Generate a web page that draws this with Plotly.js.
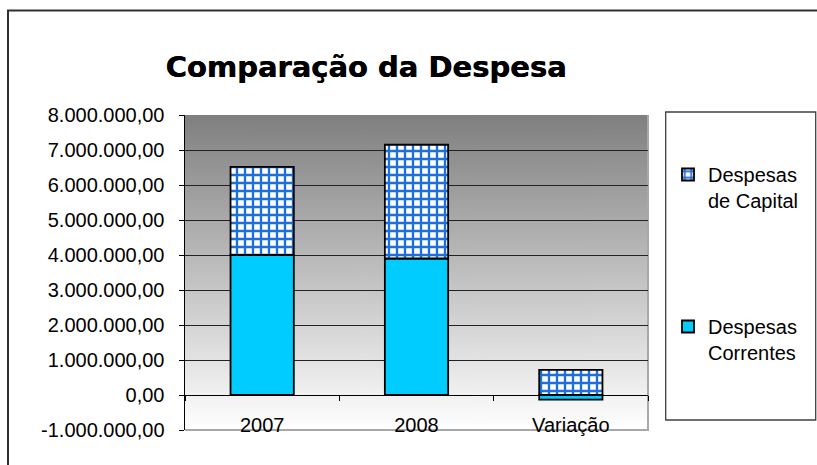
<!DOCTYPE html>
<html>
<head>
<meta charset="utf-8">
<script src="https://cdn.plot.ly/plotly-3.0.1.min.js"></script>
<style>html,body{margin:0;padding:0;background:#fff;}#chart{width:817px;height:465px;}</style>
</head>
<body>
<div id="chart"></div>
<script>
// ---- data ----
var categories = ['2007', '2008', 'Variação'];
var despesasCorrentes = [4000000, 3900000, -130000];
var despesasCapital = [2520000, 3250000, 720000];
var yTickValues = [-1000000, 0, 1000000, 2000000, 3000000, 4000000, 5000000, 6000000, 7000000, 8000000];
var yTickLabels = ['-1.000.000,00', '0,00', '1.000.000,00', '2.000.000,00', '3.000.000,00',
                   '4.000.000,00', '5.000.000,00', '6.000.000,00', '7.000.000,00', '8.000.000,00'];
var titleText = 'Comparação da Despesa';
var nameCorrentes = 'Despesas<br>Correntes';
var nameCapital = 'Despesas<br>de Capital';

// gradient background image for the plot area
function gradientURL() {
  var c = document.createElement('canvas');
  c.width = 4; c.height = 315;
  var ctx = c.getContext('2d');
  var g = ctx.createLinearGradient(0, 0, 0, 315);
  g.addColorStop(0, '#7f7f7f');
  g.addColorStop(1, '#ffffff');
  ctx.fillStyle = g;
  ctx.fillRect(0, 0, 4, 315);
  return c.toDataURL('image/png');
}

var FONT = 'Liberation Sans, Arial, sans-serif';

var traces = [
  {
    type: 'bar', name: nameCorrentes, x: categories, y: despesasCorrentes,
    legendgroup: 'b', legendrank: 2,
    marker: { color: '#00ccff', line: { color: '#000000', width: 1.8 } },
    hoverinfo: 'none'
  },
  {
    type: 'bar', name: nameCapital, x: categories, y: despesasCapital,
    legendgroup: 'a', legendrank: 1,
    marker: {
      color: '#ffffff',
      line: { color: '#000000', width: 1.8 },
      pattern: { shape: '+', fgcolor: '#1e6fd9', bgcolor: '#ffffff', size: 8, solidity: 0.5, fillmode: 'replace' }
    },
    hoverinfo: 'none'
  }
];

var layout = {
  width: 817, height: 465,
  margin: { l: 185, r: 169, t: 115, b: 35, pad: 0 },
  paper_bgcolor: '#ffffff', plot_bgcolor: '#ffffff',
  barmode: 'relative', bargap: 0.59,
  font: { family: FONT, size: 20, color: '#000000' },
  title: {
    text: titleText,
    font: { family: 'DejaVu Sans, sans-serif', size: 29, color: '#000000', weight: 'bold',
            shadow: '0.5px 0 0 #000' },
    xref: 'container', yref: 'container', x: 366 / 817, xanchor: 'center',
    y: 1 - 67 / 465, yanchor: 'middle'
  },
  xaxis: {
    type: 'category', anchor: 'free', position: 1 / 9,
    showline: true, linecolor: '#000000', linewidth: 1,
    ticks: 'outside', tickson: 'boundaries', ticklen: 5, tickcolor: '#000000', tickwidth: 1,
    showgrid: false, zeroline: false,
    tickfont: { family: FONT, size: 20, color: '#000000' },
    ticklabelstandoff: 12
  },
  yaxis: {
    range: [-1000000, 8000000], tickmode: 'array', tickvals: yTickValues, ticktext: yTickLabels,
    showgrid: true, gridcolor: '#222222', gridwidth: 1,
    zeroline: true, zerolinecolor: '#000000', zerolinewidth: 1,
    showline: true, linecolor: '#000000', linewidth: 1.5,
    ticks: 'outside', ticklen: 5, tickcolor: '#000000', tickwidth: 1,
    tickfont: { family: FONT, size: 20, color: '#000000' },
    ticklabelstandoff: 10
  },
  showlegend: true,
  legend: {
    x: (668 - 185) / 463, xanchor: 'left', y: (430 - 155) / 315, yanchor: 'top',
    bgcolor: 'rgba(0,0,0,0)', borderwidth: 0,
    traceorder: 'grouped', tracegroupgap: 97, valign: 'top',
    font: { family: FONT, size: 20, color: '#000000' }
  },
  images: [{
    source: gradientURL(), xref: 'paper', yref: 'paper', x: 0, y: 1, sizex: 1, sizey: 1,
    xanchor: 'left', yanchor: 'top', sizing: 'stretch', layer: 'below'
  }],
  shapes: [
    // outer chart border
    { type: 'rect', xref: 'paper', yref: 'paper', x0: (8 - 185) / 463, x1: (830 - 185) / 463,
      y0: (430 - 480) / 315, y1: (430 - 10.5) / 315, line: { color: '#303030', width: 2 } },
    // legend box
    { type: 'rect', xref: 'paper', yref: 'paper', x0: (665.7 - 185) / 463, x1: (815.7 - 185) / 463,
      y0: (430 - 420) / 315, y1: (430 - 112) / 315, line: { color: '#404040', width: 1.3 } },
    // plot area gray border (bottom, right)
    { type: 'path', xref: 'paper', yref: 'paper', path: 'M0,0 L1,0 L1,1',
      line: { color: '#a8a8a8', width: 2 }, layer: 'between' }
  ]
};

Plotly.newPlot('chart', traces, layout, { staticPlot: true, displayModeBar: false });
</script>
</body>
</html>
